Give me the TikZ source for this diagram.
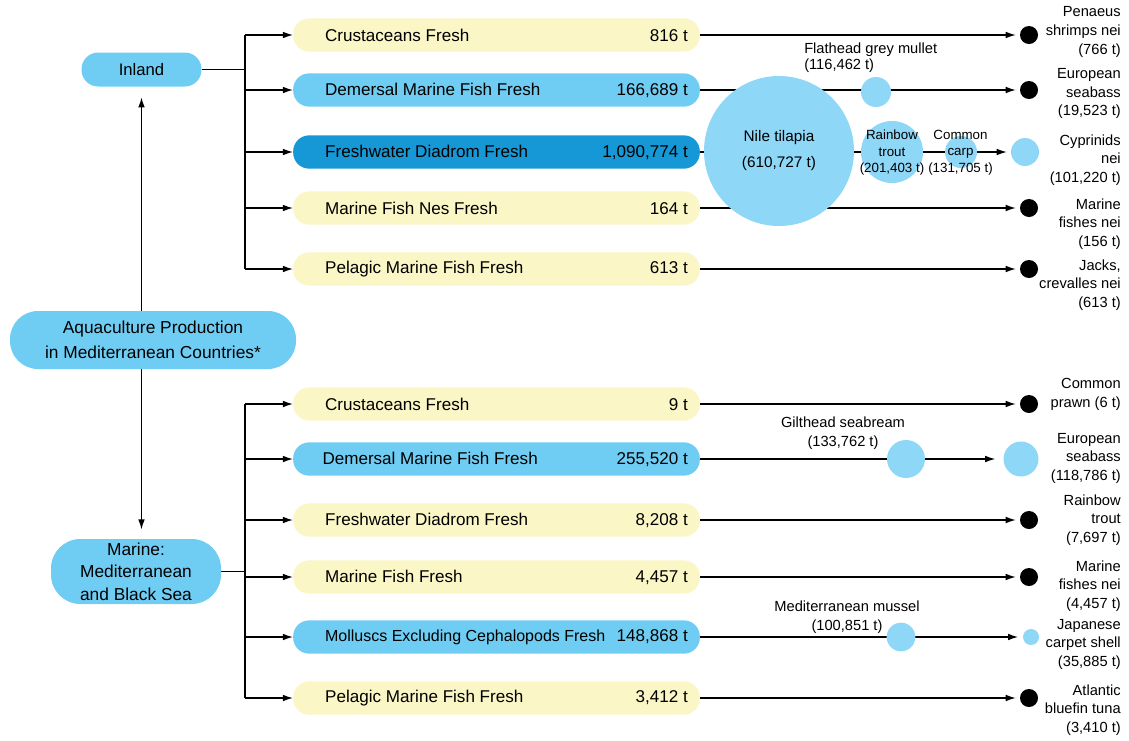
\documentclass[tikz,border=0pt]{standalone}
\usepackage{fontspec}
\setmainfont{Liberation Sans}
\usetikzlibrary{arrows.meta,backgrounds}

\definecolor{pillblue}{HTML}{6FCDF3}
\definecolor{deepblue}{HTML}{1798D6}
\definecolor{paleyellow}{HTML}{FAF6C6}
\definecolor{bubbleblue}{HTML}{8ED7F6}

\tikzset{
    pill/.style={fill=pillblue, rounded corners=#1, align=center, inner sep=0pt},
    catbox/.style={rounded corners=12pt, minimum height=25pt, minimum width=305pt, inner sep=0pt, font=\fontsize{12.8}{15}\selectfont},
    enddot/.style={circle, fill=black, minimum size=13.5pt, inner sep=0pt},
    bubble/.style={circle, fill=bubbleblue, minimum size=#1, inner sep=0pt},
    species/.style={anchor=east, align=right, inner sep=0pt, font=\fontsize{11}{13.9}\selectfont},
    bubbletext/.style={align=center, inner sep=0pt},
    flow/.style={-{Latex[length=7.5pt,width=5pt]}, line width=0.9pt},
    link/.style={line width=0.9pt}
}

\begin{document}
\begin{tikzpicture}[x=0.75pt, y=-0.75pt]
    \useasboundingbox (0,0) rectangle (1129,740);

    % left column
    \node[pill=12.5pt, minimum width=90pt, minimum height=25.5pt, font=\fontsize{12.5}{15}\selectfont] (inland) at (141.5,69.5) {Inland};
    \node[pill=21pt, minimum width=214.5pt, minimum height=43.5pt, font=\fontsize{13}{19}\selectfont] (aqua) at (153,340) {Aquaculture Production\\in Mediterranean Countries*};
    \node[pill=22pt, minimum width=127.5pt, minimum height=48.75pt, font=\fontsize{13}{17}\selectfont] (marine) at (136,571.5) {Marine:\\Mediterranean\\and Black Sea};

    % inland categories
    \node[catbox, fill=paleyellow] (icrus) at (496.5,35) {\hbox to 305pt{\hspace*{24pt}Crustaceans Fresh\hfill 816 t\kern9pt}};
    \node[catbox, fill=pillblue] (idem) at (496.5,90) {\hbox to 305pt{\hspace*{24pt}Demersal Marine Fish Fresh\hfill 166,689 t\kern9pt}};
    \node[catbox, fill=deepblue] (ifresh) at (496.5,152) {\hbox to 305pt{\hspace*{24pt}Freshwater Diadrom Fresh\hfill 1,090,774 t\kern9pt}};
    \node[catbox, fill=paleyellow] (ines) at (496.5,208) {\hbox to 305pt{\hspace*{24pt}Marine Fish Nes Fresh\hfill 164 t\kern9pt}};
    \node[catbox, fill=paleyellow] (ipel) at (496.5,269) {\hbox to 305pt{\hspace*{24pt}Pelagic Marine Fish Fresh\hfill 613 t\kern9pt}};

    % marine categories
    \node[catbox, fill=paleyellow] (mcrus) at (496.5,404) {\hbox to 305pt{\hspace*{24pt}Crustaceans Fresh\hfill 9 t\kern9pt}};
    \node[catbox, fill=pillblue] (mdem) at (496.5,459) {\hbox to 305pt{\hspace*{22pt}Demersal Marine Fish Fresh\hfill 255,520 t\kern9pt}};
    \node[catbox, fill=paleyellow] (mfresh) at (496.5,520) {\hbox to 305pt{\hspace*{24pt}Freshwater Diadrom Fresh\hfill 8,208 t\kern9pt}};
    \node[catbox, fill=paleyellow] (mmar) at (496.5,577) {\hbox to 305pt{\hspace*{24pt}Marine Fish Fresh\hfill 4,457 t\kern9pt}};
    \node[catbox, fill=pillblue] (mmol) at (496.5,637) {\hbox to 305pt{\hspace*{24pt}{\fontsize{12}{15}\selectfont Molluscs Excluding Cephalopods Fresh}\hfill 148,868 t\kern9pt}};
    \node[catbox, fill=paleyellow] (mpel) at (496.5,698) {\hbox to 305pt{\hspace*{24pt}Pelagic Marine Fish Fresh\hfill 3,412 t\kern9pt}};

    % inland species
    \node[bubble=112.5pt, font=\fontsize{11.5}{19.5}\selectfont, align=center] (tilapia) at (779,151) {Nile tilapia\\(610,727 t)};
    \node[bubble=22.5pt] (mullet) at (876,92) {};
    \node[anchor=west, align=left, inner sep=0pt, font=\fontsize{11}{12}\selectfont] (mulletlbl) at (804,58) {Flathead grey mullet\\(116,462 t)};
    \node[bubble=46.5pt] (trout) at (892,152) {};
    \node[bubbletext, font=\fontsize{10}{12.4}\selectfont] (troutlbl) at (892,153) {Rainbow\\trout\\(201,403 t)};
    \node[bubble=24pt] (carp) at (961,152) {};
    \node[bubbletext, font=\fontsize{10}{12.4}\selectfont] (carplbl) at (960.5,152.5) {Common\\carp\\(131,705 t)};
    \node[bubble=21pt] (cyprinid) at (1025,152) {};

    \node[enddot] (idot1) at (1029,35) {};
    \node[enddot] (idot2) at (1029,90) {};
    \node[enddot] (idot4) at (1029,208) {};
    \node[enddot] (idot5) at (1029,269) {};

    \node[species] (ispec1) at (1121,32) {Penaeus\\shrimps nei\\(766 t)};
    \node[species] (ispec2) at (1121,93.5) {European\\seabass\\(19,523 t)};
    \node[species] (ispec3) at (1121,160) {Cyprinids\\nei\\(101,220 t)};
    \node[species] (ispec4) at (1121,224) {Marine\\fishes nei\\(156 t)};
    \node[species] (ispec5) at (1121,285) {Jacks,\\crevalles nei\\(613 t)};

    % marine species
    \node[bubble=28.5pt] (seabream) at (906,459) {};
    \node[bubbletext, font=\fontsize{11}{14}\selectfont] (seabreamlbl) at (843,433.5) {Gilthead seabream\\(133,762 t)};
    \node[bubble=26.25pt] (seabass) at (1021,459) {};
    \node[bubble=21.5pt] (mussel) at (901,637) {};
    \node[bubbletext, font=\fontsize{11}{14}\selectfont] (mussellbl) at (847,617.5) {Mediterranean mussel\\(100,851 t)};
    \node[bubble=12pt] (clam) at (1031,637) {};

    \node[enddot] (mdot1) at (1029,404) {};
    \node[enddot] (mdot3) at (1029,520) {};
    \node[enddot] (mdot4) at (1029,577) {};
    \node[enddot] (mdot6) at (1029,698) {};

    \node[species] (mspec1) at (1121,394.5) {Common\\prawn (6 t)};
    \node[species] (mspec2) at (1121,458) {European\\seabass\\(118,786 t)};
    \node[species] (mspec3) at (1121,520) {Rainbow\\trout\\(7,697 t)};
    \node[species] (mspec4) at (1121,586) {Marine\\fishes nei\\(4,457 t)};
    \node[species] (mspec5) at (1121,644) {Japanese\\carpet shell\\(35,885 t)};
    \node[species] (mspec6) at (1121,710) {Atlantic\\bluefin tuna\\(3,410 t)};

    % connectors
    \coordinate (itop) at (245,35);
    \coordinate (ibot) at (245,269);
    \coordinate (mtop) at (245,404);
    \coordinate (mbot) at (245,698);

    \begin{scope}[on background layer]
        \draw[flow, shorten >=8pt] (inland.south |- aqua.north) -- (inland.south);
        \draw[flow, shorten >=7pt] (inland.south |- aqua.south) -- (inland.south |- marine.north);

        \draw[link] (inland.east) -- (inland.east -| itop);
        \draw[link] (itop) -- (ibot);
        \draw[flow] (icrus -| itop) -- (icrus.west);
        \draw[flow] (idem -| itop) -- (idem.west);
        \draw[flow] (ifresh -| itop) -- (ifresh.west);
        \draw[flow] (ines -| itop) -- (ines.west);
        \draw[flow] (ipel -| itop) -- (ipel.west);

        \draw[link] (marine.east) -- (marine.east -| mtop);
        \draw[link] (mtop) -- (mbot);
        \draw[flow] (mcrus -| mtop) -- (mcrus.west);
        \draw[flow] (mdem -| mtop) -- (mdem.west);
        \draw[flow] (mfresh -| mtop) -- (mfresh.west);
        \draw[flow] (mmar -| mtop) -- (mmar.west);
        \draw[flow] (mmol -| mtop) -- (mmol.west);
        \draw[flow] (mpel -| mtop) -- (mpel.west);

        \draw[flow, shorten >=3pt] (icrus.east) -- (idot1);
        \draw[flow, shorten >=3pt] (idem.east) -- (idot2);
        \draw[flow, shorten >=3pt] (ifresh.east) -- (cyprinid);
        \draw[flow, shorten >=3pt] (ines.east) -- (idot4);
        \draw[flow, shorten >=3pt] (ipel.east) -- (idot5);

        \draw[flow, shorten >=3pt] (mcrus.east) -- (mdot1);
        \draw[flow, shorten >=6pt] (mdem.east) -- (seabass);
        \draw[flow, shorten >=3pt] (mfresh.east) -- (mdot3);
        \draw[flow, shorten >=3pt] (mmar.east) -- (mdot4);
        \draw[flow, shorten >=3.5pt] (mmol.east) -- (clam);
        \draw[flow, shorten >=3pt] (mpel.east) -- (mdot6);
    \end{scope}
\end{tikzpicture}
\end{document}
